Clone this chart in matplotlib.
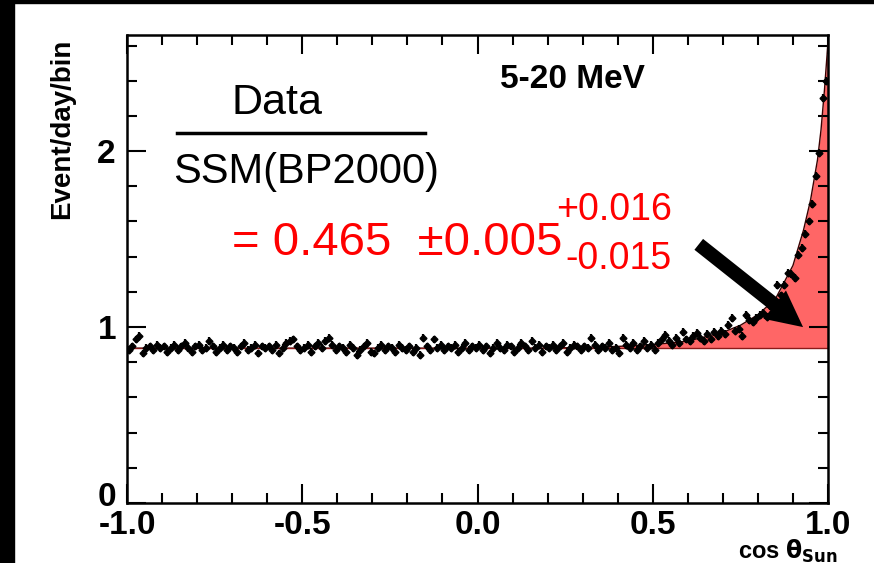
import numpy as np
import matplotlib
matplotlib.use("Agg")
import matplotlib.pyplot as plt
import matplotlib.transforms as mtransforms
from matplotlib.patches import Rectangle

plt.rcParams['font.family'] = ['Liberation Sans', 'DejaVu Sans']

# ---- data ----
bin_centers = np.round(np.arange(-0.995, 1.0, 0.01), 3)
rate = [
    0.87, 0.89, 0.93, 0.95, 0.85, 0.88, 0.89, 0.87, 0.90, 0.88,
    0.89, 0.86, 0.88, 0.90, 0.87, 0.89, 0.91, 0.88, 0.86, 0.89,
    0.90, 0.87, 0.88, 0.92, 0.89, 0.86, 0.88, 0.90, 0.87, 0.89,
    0.88, 0.86, 0.89, 0.91, 0.87, 0.88, 0.90, 0.85, 0.89, 0.88,
    0.89, 0.87, 0.90, 0.85, 0.88, 0.91, 0.92, 0.93, 0.89, 0.87,
    0.88, 0.90, 0.86, 0.89, 0.91, 0.88, 0.92, 0.94, 0.90, 0.87,
    0.89, 0.88, 0.86, 0.90, 0.88, 0.84, 0.87, 0.89, 0.91, 0.86,
    0.85, 0.88, 0.90, 0.87, 0.89, 0.88, 0.86, 0.90, 0.88, 0.87,
    0.89, 0.86, 0.88, 0.84, 0.94, 0.89, 0.87, 0.93, 0.88, 0.90,
    0.87, 0.89, 0.88, 0.90, 0.86, 0.88, 0.91, 0.87, 0.89, 0.88,
    0.90, 0.87, 0.89, 0.85, 0.88, 0.91, 0.88, 0.87, 0.90, 0.89,
    0.86, 0.88, 0.91, 0.89, 0.87, 0.92, 0.88, 0.90, 0.86, 0.89,
    0.88, 0.90, 0.87, 0.89, 0.91, 0.86, 0.88, 0.90, 0.89, 0.87,
    0.89, 0.88, 0.94, 0.90, 0.87, 0.89, 0.88, 0.91, 0.87, 0.88,
    0.85, 0.94, 0.90, 0.88, 0.91, 0.87, 0.89, 0.92, 0.88, 0.90,
    0.87, 0.91, 0.93, 0.955, 0.92, 0.90, 0.94, 0.91, 0.97, 0.93,
    0.92, 0.95, 0.965, 0.94, 0.92, 0.96, 0.93, 0.97, 0.95, 0.98,
    0.96, 1.01, 1.05, 0.98, 0.99, 0.95, 1.07, 1.04, 1.03, 1.05,
    1.07, 1.08, 1.06, 1.12, 1.14, 1.24, 1.18, 1.24, 1.31, 1.30,
    1.28, 1.41, 1.45, 1.53, 1.60, 1.70, 1.86, 1.99, 2.30, 2.40,
]
rate_err = 0.022

curve_x = [-1.0, 0.2, 0.3, 0.4, 0.5, 0.6, 0.7, 0.75, 0.8, 0.85, 0.9, 0.93, 0.95, 0.97, 0.98, 0.99, 1.0]
curve_y = [0.88, 0.88, 0.885, 0.89, 0.90, 0.92, 0.97, 1.01, 1.07, 1.16, 1.35, 1.55, 1.72, 1.95, 2.12, 2.35, 2.62]
background = 0.88

x_ticks = [-1.0, -0.5, 0.0, 0.5, 1.0]
x_ticklabels = ["-1.0", "-0.5", "0.0", "0.5", "1.0"]
y_ticks = [0, 1, 2]

# ---- figure ----
W, H = 874, 563
fig = plt.figure(figsize=(W / 100, H / 100), dpi=100)
fig.patch.set_facecolor('white')
fig.add_artist(Rectangle((0, 0), 14 / W, 1, transform=fig.transFigure, color='black', zorder=0))
fig.add_artist(Rectangle((0, 1 - 3 / H), 1, 3 / H, transform=fig.transFigure, color='black', zorder=0))

ax = fig.add_axes([127 / W, 1 - 503 / H, (828 - 127) / W, (503 - 35) / H])
ax.set_xlim(-1, 1)
ax.set_ylim(0, 2.66)

ax.fill_between(curve_x, background, curve_y, color='#ff6666', lw=0, zorder=1)
ax.plot(curve_x, curve_y, color='#3a0000', lw=1.0, zorder=2)
ax.axhline(background, color='#8b1a1a', lw=1.0, zorder=2)

ax.errorbar(bin_centers, rate, yerr=rate_err, fmt='D', ms=3.5, color='black',
            ecolor='black', elinewidth=1.6, capsize=0, zorder=3)

ax.annotate('', xy=(0.935, 0.99), xytext=(0.625, 1.48),
            arrowprops=dict(arrowstyle='simple,head_length=1.3,head_width=1.3,tail_width=0.5',
                            color='black', lw=0, mutation_scale=20), zorder=4)

for s in ax.spines.values():
    s.set_linewidth(1.8)
ax.set_xticks(x_ticks)
ax.set_xticklabels(x_ticklabels)
ax.set_yticks(y_ticks)
ax.set_xticks(np.round(np.arange(-1, 1.001, 0.1), 2), minor=True)
ax.set_yticks(np.round(np.arange(0, 2.7, 0.2), 2), minor=True)
ax.tick_params(which='both', direction='in', top=True, right=True, width=1.5)
ax.tick_params(which='major', length=14, labelsize=24)
ax.tick_params(axis='x', which='major', pad=5)
ax.tick_params(axis='y', which='major', pad=8)
ax.tick_params(which='minor', length=7)
for lab in ax.get_xticklabels() + ax.get_yticklabels():
    lab.set_fontweight('bold')
# nudge the "0" label up so it clears "-1.0"
ylab0 = ax.get_yticklabels()[0]
ylab0.set_transform(ylab0.get_transform() + mtransforms.ScaledTranslation(0, 9 / 100, fig.dpi_scale_trans))

fig.text(62 / W, 1 - 129 / H, 'Event/day/bin', rotation=90, ha='center', va='center',
         fontsize=20, fontweight='bold')
fig.text(838 / W, 1 - 551 / H, r'cos $\mathbf{\theta_{Sun}}$', ha='right', va='center',
         fontsize=17, fontweight='bold')

fig.text(572 / W, 1 - 80 / H, '5-20 MeV', ha='center', va='center', fontsize=24, fontweight='bold')
fig.text(277 / W, 1 - 103 / H, 'Data', ha='center', va='center', fontsize=31)
fig.add_artist(plt.Line2D([177 / W, 425 / W], [1 - 133 / H, 1 - 133 / H], color='black', lw=2.5))
fig.text(306 / W, 1 - 172 / H, 'SSM(BP2000)', ha='center', va='center', fontsize=30)
fig.text(232 / W, 1 - 243 / H, '= 0.465  \u00b10.005', ha='left', va='center', fontsize=34, color='red')
fig.text(672 / W, 1 - 210 / H, '+0.016', ha='right', va='center', fontsize=27, color='red')
fig.text(672 / W, 1 - 259 / H, '-0.015', ha='right', va='center', fontsize=27, color='red')

fig.savefig('out.png', dpi=100)
